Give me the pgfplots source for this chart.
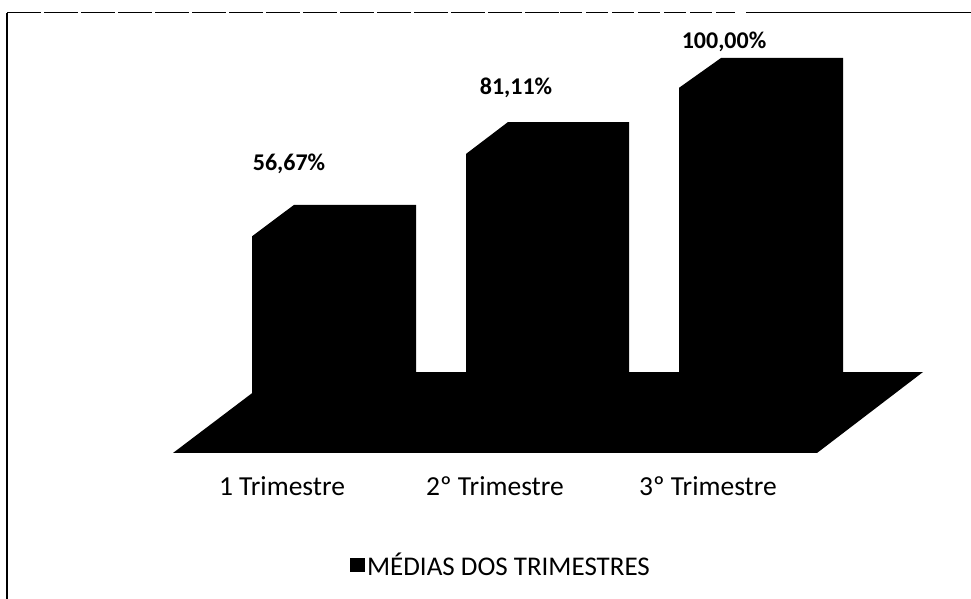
\documentclass[border=0pt]{standalone}
\usepackage{fontspec}
\setmainfont{Carlito}
\usepackage{pgfplots}
\pgfplotsset{compat=1.18}
\begin{document}
\begin{tikzpicture}
\path[use as bounding box] (0,0) rectangle (971pt,599pt);
\begin{axis}[
    at={(0pt,146pt)},anchor=south west,
    scale only axis,width=971pt,height=453pt,
    xmin=0,xmax=971,ymin=-16.52,ymax=117.11,
    clip=false,
    axis line style={draw=none},
    ytick=\empty,
    xtick={282,495,708},
    xticklabels={1 Trimestre,2º Trimestre,3º Trimestre},
    xtick style={draw=none},
    xticklabel style={font=\fontsize{27.5}{32}\selectfont,yshift=-20pt},
    legend style={at={(501pt,-112pt)},anchor=center,draw=none,fill=none,
        font=\fontsize{27}{32}\selectfont,inner sep=0pt},
    legend cell align=left,
    legend image code/.code={\fill[black] (-8pt,-7pt) rectangle (7pt,7pt);},
]
% floor
\addplot[fill=black,draw=none,forget plot] coordinates
    {(173,-16.52) (817,-16.52) (923,7.37) (280,7.37)} -- cycle;
% bars: front edge, top slant, back edge
\addplot[fill=black,draw=none] coordinates
    {(252,1.18) (252,47.4) (294,56.67) (416,56.67) (416,7.37)} -- cycle;
\addplot[fill=black,draw=none,forget plot] coordinates
    {(466,1.18) (466,71.7) (508,81.11) (629,81.11) (629,7.37)} -- cycle;
\addplot[fill=black,draw=none,forget plot] coordinates
    {(679,1.18) (679,91.2) (721,100) (843,100) (843,7.37)} -- cycle;
\addlegendentry{MÉDIAS DOS TRIMESTRES}

\node[font=\bfseries\fontsize{24}{28}\selectfont] at (axis cs:289,68.9) {56,67\%};
\node[font=\bfseries\fontsize{24}{28}\selectfont] at (axis cs:516,91.1) {81,11\%};
\node[font=\bfseries\fontsize{24}{28}\selectfont] at (axis cs:724,104.7) {100,00\%};

% scanned frame, left and top only
\draw[line width=2.5pt,black] (axis cs:7,113.4) -- (axis cs:7,-59.6);
\draw[line width=1.8pt,black,dash pattern=on 34pt off 3pt] (axis cs:7,113.4) -- (axis cs:560,113.4);
\draw[line width=1.2pt,black,dash pattern=on 22pt off 4pt] (axis cs:560,113.4) -- (axis cs:735,113.4);
\draw[line width=1.5pt,black] (axis cs:746,113.4) -- (axis cs:971,113.4);
\end{axis}
\end{tikzpicture}
\end{document}
